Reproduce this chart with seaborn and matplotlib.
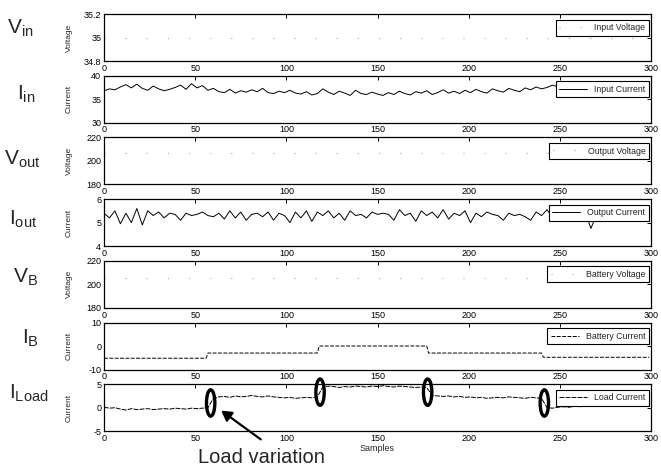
import numpy as np
import pandas as pd
import matplotlib
matplotlib.use("Agg")
import matplotlib.pyplot as plt
import seaborn as sns
from matplotlib.patches import Ellipse, FancyArrowPatch

sns.set_style("white")
plt.rcParams["font.family"] = ["Liberation Sans", "DejaVu Sans"]
plt.rcParams["axes.unicode_minus"] = False

# ---------------- data ----------------
n_samples = 300
x_noisy = np.arange(0, 300, 3)

# input voltage (V), steady
vin_level = 35.0
# output voltage (V), steady
vout_level = 207.0
# battery voltage (V), steady
vb_level = 205.0

# input current (A), every 3rd sample
iin = [36.8, 37.2, 37.0, 37.6, 38.1, 37.4, 38.2, 37.3, 36.9, 37.8, 37.2, 36.8, 37.1, 37.5, 38.0, 37.1, 38.3,
       37.4, 37.9, 36.9, 37.3, 36.6, 36.4, 37.1, 36.3, 36.8, 36.5, 37.0, 36.6, 37.3, 36.4, 36.2, 36.7, 36.4,
       36.9, 36.3, 36.1, 36.6, 35.9, 36.2, 37.2, 36.5, 36.0, 36.7, 36.3, 35.8, 36.9, 36.2, 36.0, 36.5, 36.1,
       35.8, 36.4, 36.0, 36.7, 36.2, 35.9, 36.6, 36.3, 36.8, 36.0, 36.4, 37.0, 36.3, 36.7, 36.2, 36.9,
       36.4, 37.1, 36.6, 36.3, 37.2, 36.8, 36.5, 37.3, 36.9, 36.6, 37.4, 37.0, 37.6, 37.2, 37.5, 38.0, 37.6,
       37.8, 37.4, 37.9, 37.6, 38.0, 37.5, 37.7, 37.9, 37.4, 37.8, 37.6, 38.0, 37.5, 37.7, 37.9, 37.6]

# output current (A), every 3rd sample
iout = [5.4, 5.2, 5.5, 4.95, 5.4, 5.0, 5.6, 4.9, 5.5, 5.3, 5.45, 5.2, 5.4, 5.35, 5.1, 5.4, 5.3,
        5.35, 5.45, 5.3, 5.25, 5.4, 5.15, 5.5, 5.2, 5.45, 5.1, 5.35, 5.4, 5.25, 5.45, 5.1, 5.4, 5.3,
        5.0, 5.45, 5.2, 5.5, 5.05, 5.45, 5.3, 5.5, 5.2, 5.4, 5.1, 5.5, 5.3, 5.35, 5.2, 5.45, 5.35,
        5.4, 5.35, 5.1, 5.55, 5.3, 5.4, 5.05, 5.5, 5.3, 5.45, 5.2, 5.55, 5.15, 5.4, 5.3, 5.5,
        5.0, 5.4, 5.25, 5.45, 5.35, 5.3, 5.1, 5.4, 5.3, 5.35, 5.25, 5.1, 5.45, 5.3, 5.55, 5.2, 5.45,
        5.3, 5.4, 5.25, 5.35, 5.45, 4.75, 5.3, 5.4, 5.2, 5.35, 5.3, 5.25, 5.4, 5.3, 5.35, 5.3]

# battery current (A): level held between switching samples
ib_levels = [-5.2, -3.0, 0.0, -3.0, -4.8]
ib_breaks = [0, 57, 118, 178, 241, 300]

# load current (A), every 3rd sample
iload = [0.1, -0.1, 0.0, -0.3, -0.5, -0.2, -0.4, -0.3, -0.2, -0.4, -0.3, -0.2, -0.3, -0.1, -0.2, -0.3, -0.1, -0.2, -0.1, 0.0,
         2.0, 2.3, 2.4, 2.2, 2.5, 2.3, 2.4, 2.6, 2.4, 2.3, 2.5, 2.3, 2.2, 2.1, 2.2, 2.0, 2.1, 2.2, 2.1, 2.3,
         4.4, 4.6, 4.5, 4.3, 4.5, 4.4, 4.6, 4.5, 4.4, 4.6, 4.5, 4.7, 4.5, 4.4, 4.6, 4.5, 4.4, 4.3, 4.4, 4.3,
         2.6, 2.5, 2.4, 2.5, 2.3, 2.4, 2.2, 2.3, 2.1, 2.2, 2.0, 2.1, 2.2, 2.1, 2.3, 2.2, 2.1, 2.0, 2.2, 2.1, 2.0,
         0.0, -0.1, 0.1, 0.2, 0.1, 0.3, 0.2, 0.4, 0.3, 0.4, 0.5, 0.4, 0.6, 0.5, 0.4, 0.6, 0.5, 0.6, 0.5]

# load steps (sample, mid level)
load_steps = [58.5, 118.5, 177.5, 241.5]
load_step_mid = [1.0, 3.3, 3.3, 1.0]

xticks = [0, 50, 100, 150, 200, 250, 300]
row_labels = [r"$\mathregular{V_{in}}$", r"$\mathregular{I_{in}}$", r"$\mathregular{V_{out}}$",
              r"$\mathregular{I_{out}}$", r"$\mathregular{V_{B}}$", r"$\mathregular{I_{B}}$",
              r"$\mathregular{I_{Load}}$"]

# ---------------- build series ----------------
x_all = np.arange(n_samples)
ib = np.concatenate([np.full(b - a, lv) for lv, a, b in zip(ib_levels, ib_breaks[:-1], ib_breaks[1:])])

series = [
    dict(x=x_all, y=np.full(n_samples, vin_level), name="Input Voltage", ylab="Voltage",
         ylim=(34.8, 35.2), yt=[34.8, 35.0, 35.2], ytl=["34.8", "35", "35.2"], faint=True),
    dict(x=x_noisy, y=np.array(iin), name="Input Current", ylab="Current",
         ylim=(30, 40), yt=[30, 35, 40], ytl=["30", "35", "40"], faint=False),
    dict(x=x_all, y=np.full(n_samples, vout_level), name="Output Voltage", ylab="Voltage",
         ylim=(180, 220), yt=[180, 200, 220], ytl=["180", "200", "220"], faint=True),
    dict(x=x_noisy, y=np.array(iout), name="Output Current", ylab="Current",
         ylim=(4, 6), yt=[4, 5, 6], ytl=["4", "5", "6"], faint=False),
    dict(x=x_all, y=np.full(n_samples, vb_level), name="Battery Voltage", ylab="Voltage",
         ylim=(180, 220), yt=[180, 200, 220], ytl=["180", "200", "220"], faint=True),
    dict(x=x_all, y=ib, name="Battery Current", ylab="Current",
         ylim=(-10, 10), yt=[-10, 0, 10], ytl=["-10", "0", "10"], faint=False, dash=(0, (4, 1.5))),
    dict(x=x_noisy, y=np.array(iload), name="Load Current", ylab="Current",
         ylim=(-5, 5), yt=[-5, 0, 5], ytl=["-5", "0", "5"], faint=False, dash=(0, (5, 1.2))),
]

# ---------------- layout (pixel geometry) ----------------
W, H = 661, 469
fig = plt.figure(figsize=(W / 100, H / 100), dpi=100)
left_px, right_px = 104, 651
top0, step, hgt = 14, 61.7, 47

label_pos = [(7, 34), (17, 100), (4, 165), (9, 225), (13, 283), (22, 344), (9, 399)]

axes = []
for k, s in enumerate(series):
    top = top0 + k * step
    ax = fig.add_axes([left_px / W, 1 - (top + hgt) / H, (right_px - left_px) / W, hgt / H])
    axes.append(ax)
    df = pd.DataFrame({"Samples": s["x"], "value": s["y"]})
    if s["faint"]:
        sns.lineplot(data=df, x="Samples", y="value", ax=ax, color="#a8a8a8",
                     linewidth=0.8, linestyle=(0, (1, 18)), label=s["name"])
    else:
        sns.lineplot(data=df, x="Samples", y="value", ax=ax, color="black",
                     linewidth=0.7, linestyle=s.get("dash", "-"), label=s["name"])
    ax.set_xlim(0, 300)
    ax.set_ylim(*s["ylim"])
    ax.set_xticks(xticks)
    ax.set_xticklabels([str(t) for t in xticks])
    ax.set_yticks(s["yt"])
    ax.set_yticklabels(s["ytl"])
    ax.tick_params(direction="in", length=3, width=0.7, top=True, right=True,
                   labelsize=6.5, pad=2, colors="black")
    for sp in ax.spines.values():
        sp.set_color("black")
        sp.set_linewidth(0.9)
    ax.set_ylabel(s["ylab"], fontsize=6)
    ax.yaxis.set_label_coords(-0.057, 0.5)
    ax.set_xlabel("")
    leg = ax.legend(loc="upper right", bbox_to_anchor=(0.996, 0.88), fontsize=6.3,
                    frameon=True, fancybox=False, handlelength=3.2, handletextpad=0.8,
                    borderpad=0.4, borderaxespad=0.0)
    leg.get_frame().set_edgecolor("black")
    leg.get_frame().set_linewidth(0.8)
    leg.get_frame().set_alpha(1.0)

    lx, ly = label_pos[k]
    fig.text(lx / W, 1 - ly / H, row_labels[k], fontsize=15, family="Liberation Sans",
             ha="left", va="baseline")

axes[-1].set_xlabel("Samples", fontsize=6.5, labelpad=1)

# mark the load steps on the load-current panel
ax_load = axes[-1]
for sx, sy in zip(load_steps, load_step_mid):
    ax_load.add_patch(Ellipse((sx, sy), width=4.6, height=5.6, fill=False,
                              edgecolor="black", linewidth=2.4, clip_on=False, zorder=5))

fig.text(198 / W, 1 - 463 / H, "Load variation", fontsize=14.5, family="Liberation Sans",
         ha="left", va="baseline")
fig.add_artist(FancyArrowPatch(
    (263 / W, 1 - 441 / H), (219 / W, 1 - 409 / H), transform=fig.transFigure,
    arrowstyle="-|>,head_length=6,head_width=3.5", color="black", linewidth=1.6))

fig.savefig("out.png", dpi=100, facecolor="white")
